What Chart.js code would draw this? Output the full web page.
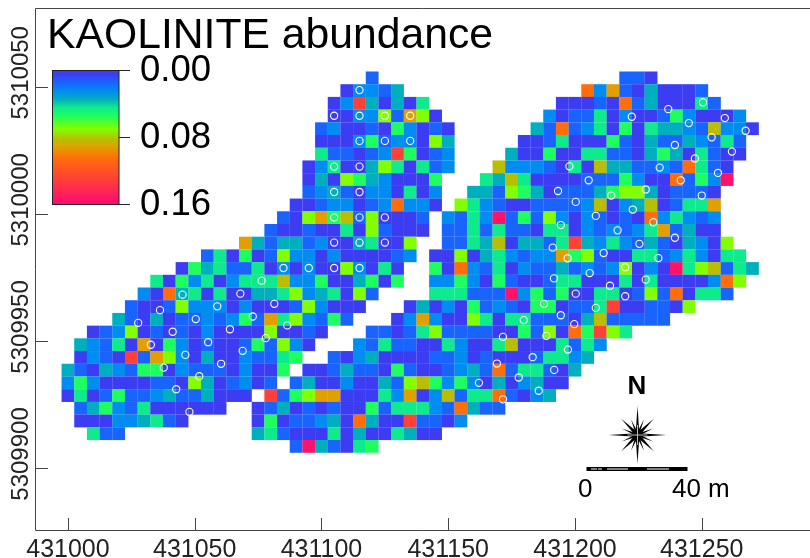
<!DOCTYPE html>
<html>
<head>
<meta charset="utf-8">
<title>KAOLINITE abundance</title>
<script src="https://cdn.jsdelivr.net/npm/chart.js@4"></script>
<style>
  html, body { margin: 0; padding: 0; background: #fff; }
  canvas { display: block; }
</style>
</head>
<body>
<canvas id="myChart" width="810" height="558"></canvas>
<script>
// abundance, in thousandths. row 0 is the northern row
const firstEast = 431000;
const firstNorth = 5310053.5;
const cellSize = 5;

const westStart = [24, 22, 21, 21, 20, 20, 20, 19, 19, 19, 18, 17, 16, 14, 11, 9, 7, 6, 5, 4, 2, 1, 1, 0, 0, 0, 1, 1, 2];
const westCells = [
  [15],
  [5, 25, 25, 15, 35],
  [5, 25, 130, 35, 5, 35, 5, 45],
  [5, 5, 25, 25, 70, 15, 92, 70, 5],
  [15, 25, 5, 5, 15, 5, 55, 25, 5, 15, 5],
  [5, 5, 5, 25, 55, 15, 25, 25, 5, 70, 35],
  [45, 15, 15, 5, 15, 25, 130, 55, 5, 15, 25],
  [5, 25, 45, 5, 5, 35, 70, 45, 5, 45, 15, 25],
  [5, 35, 5, 70, 55, 35, 25, 5, 5, 5, 55],
  [15, 25, 35, 15, 5, 25, 25, 5, 45, 5, 25],
  [5, 5, 15, 25, 25, 5, 15, 25, 105, 25, 25, 5],
  [15, 5, 70, 92, 55, 83, 15, 70, 5, 5, 5, 15],
  [15, 5, 5, 15, 5, 5, 45, 5, 70, 15, 5, 5, 5],
  [92, 35, 15, 35, 35, 15, 25, 5, 5, 35, 45, 5, 5, 70],
  [15, 45, 5, 55, 5, 15, 70, 25, 25, 5, 25, 5, 5, 5, 5, 15, 25],
  [5, 55, 35, 45, 15, 15, 45, 5, 25, 5, 25, 5, 5, 70, 25, 5, 45, 5],
  [45, 5, 55, 25, 45, 5, 25, 45, 45, 45, 83, 25, 25, 55, 5, 5, 35, 55, 5, 55],
  [25, 5, 105, 35, 45, 5, 45, 5, 5, 35, 35, 45, 70, 25, 35, 45, 5, 70, 15],
  [15, 5, 5, 15, 70, 25, 25, 25, 5, 25, 5, 5, 5, 15, 70, 25, 5, 5, 5],
  [35, 15, 5, 35, 5, 15, 15, 25, 15, 25, 55, 15, 92, 45, 70, 25, 15, 55, 15],
  [5, 15, 25, 70, 5, 15, 5, 15, 5, 25, 5, 5, 5, 5, 70, 5, 5, 15, 5],
  [35, 25, 15, 45, 5, 92, 5, 55, 25, 5, 15, 5, 5, 15, 55, 15, 70, 25, 5],
  [5, 25, 15, 5, 130, 15, 92, 70, 25, 5, 35, 5, 5, 25, 15, 15, 45, 55],
  [35, 15, 5, 35, 25, 15, 55, 55, 5, 25, 15, 15, 15, 5, 25, 5, 5, 55],
  [25, 55, 25, 5, 5, 5, 5, 15, 15, 5, 70, 35, 5, 15, 25, 5, 15],
  [5, 45, 5, 15, 55, 15, 15, 25, 35, 15, 15, 35, 5, 5, 5],
  [15, 35, 55, 25, 15, 45, 5, 5, 5, 5, 5, 5],
  [5, 5, 5, 25, 25, 35, 45, 15, 5],
  [45, 15, 15],
];

const eastStart = [44, 41, 39, 38, 37, 36, 35, 34, 33, 32, 31, 30, 30, 30, 29, 29, 29, 29, 27, 26, 24, 23, 21, 19, 18, 16, 15, 15, 15, 18];
const eastCells = [
  [15, 15, 5],
  [105, 25, 92, 15, 5, 35, 5, 5, 5, 15],
  [5, 5, 5, 15, 5, 105, 15, 35, 5, 5, 5, 45, 15],
  [25, 5, 15, 15, 45, 5, 25, 5, 5, 15, 55, 25, 5, 5, 5, 25],
  [35, 15, 105, 15, 25, 45, 5, 55, 5, 45, 35, 35, 25, 15, 83, 25, 25, 5],
  [5, 5, 15, 45, 5, 5, 5, 55, 15, 5, 35, 15, 15, 35, 25, 15, 45, 15],
  [35, 5, 5, 55, 5, 5, 45, 45, 15, 15, 5, 35, 55, 35, 5, 45, 15, 5, 5],
  [83, 25, 25, 25, 15, 5, 45, 5, 83, 35, 35, 15, 15, 25, 15, 105, 45, 15, 5],
  [45, 35, 83, 45, 5, 5, 5, 5, 15, 15, 15, 55, 25, 5, 5, 105, 15, 55, 25, 155],
  [35, 35, 15, 70, 55, 35, 5, 15, 15, 15, 35, 55, 70, 70, 35, 5, 15, 15, 15, 5],
  [70, 45, 25, 15, 5, 5, 15, 15, 15, 15, 25, 83, 5, 25, 35, 83, 5, 15, 45, 45, 92],
  [25, 15, 45, 25, 155, 15, 55, 15, 70, 25, 5, 25, 15, 5, 15, 5, 105, 25, 45, 25, 15, 25],
  [15, 15, 45, 15, 45, 15, 15, 5, 45, 45, 5, 25, 15, 25, 15, 25, 45, 92, 15, 35, 5, 5],
  [15, 15, 45, 35, 83, 5, 35, 35, 15, 45, 130, 35, 25, 45, 25, 15, 35, 15, 5, 35, 25, 5, 70],
  [5, 5, 70, 5, 35, 45, 25, 15, 25, 25, 92, 55, 70, 15, 5, 5, 45, 45, 15, 25, 45, 25, 5, 45, 45],
  [55, 5, 105, 25, 15, 45, 5, 25, 15, 15, 35, 15, 25, 15, 25, 70, 5, 25, 5, 155, 45, 70, 83, 15, 45, 35],
  [25, 25, 55, 25, 5, 55, 15, 5, 5, 15, 45, 45, 5, 5, 5, 45, 5, 45, 5, 5, 5, 5, 25, 105, 70],
  [45, 45, 45, 15, 15, 15, 155, 25, 55, 15, 55, 5, 5, 45, 45, 5, 15, 70, 15, 105, 5, 45, 45, 15],
  [5, 35, 5, 25, 5, 55, 15, 25, 15, 5, 55, 55, 5, 15, 15, 45, 130, 5, 5, 15, 15, 5, 70],
  [5, 25, 92, 25, 5, 5, 70, 45, 5, 45, 45, 15, 15, 15, 5, 35, 83, 15, 15, 15, 15, 15],
  [15, 15, 5, 15, 45, 70, 15, 15, 15, 15, 5, 5, 55, 15, 70, 5, 105, 55, 130, 70, 45],
  [25, 15, 45, 15, 15, 5, 5, 45, 25, 5, 5, 45, 83, 5, 5, 5, 45, 15, 45, 25],
  [15, 5, 25, 35, 5, 5, 5, 5, 15, 15, 25, 5, 15, 5, 5, 5, 15, 45, 45, 25, 35],
  [5, 5, 15, 35, 15, 15, 5, 55, 15, 5, 5, 15, 25, 35, 15, 105, 15, 45, 45, 15, 5, 35],
  [15, 35, 5, 5, 25, 5, 5, 35, 15, 70, 83, 55, 25, 55, 25, 5, 35, 5, 25, 35, 5, 5],
  [130, 15, 55, 70, 92, 92, 5, 5, 5, 45, 25, 92, 5, 25, 83, 15, 45, 45, 105, 15, 5, 25, 35],
  [5, 15, 35, 5, 15, 5, 15, 5, 5, 55, 15, 45, 45, 45, 25, 15, 105, 35, 15, 15],
  [5, 55, 5, 15, 15, 25, 35, 5, 105, 35, 5, 5, 130, 15, 15, 5, 25],
  [35, 45, 15, 5, 5, 5, 45, 5, 35, 5, 5, 45, 35, 5, 5],
  [15, 155, 35, 15, 5, 45, 55],
];

// sample points, metres
const sampleEast = [
  431076.4, 431045.2, 431068, 431081.4, 431036.3, 431058.9, 431027.7, 431050.4, 431072.9, 431041.3, 431063.9, 431078,
  431032.7, 431055.3, 431046.3, 431068.9, 431060.4, 431037.8, 431051.8, 431042.7, 431047.9, 431086.5,
  431115, 431105, 431115, 431125, 431135, 431115, 431125, 431135, 431105, 431115, 431105, 431115,
  431105, 431115, 431125, 431105, 431115, 431125, 431085, 431095, 431105, 431115,
  431162.1, 431197.8, 431205.4, 431193.3, 431200.3, 431208.2, 431194.4,
  431236.8, 431250.5, 431222.4, 431259.1, 431244.9, 431267.3, 431253.9, 431239.4, 431261.9, 431247.3, 431233.4,
  431256.4, 431241.7, 431227.9, 431214.3, 431250, 431222.8, 431230.9, 431216.8, 431239.4, 431225.4,
  431191.2, 431197.1, 431205.8, 431191.7, 431200.3, 431187.8, 431208.2, 431194.4, 431179.8, 431199.7,
  431188.7, 431171.6, 431197.2, 431183.3, 431169.2, 431191.8, 431177.8, 431185.7, 431171.6,
  431211.3, 431232.9, 431219.8, 431227.9, 431213.8, 431219.8,
];
const sampleNorth = [
  5309973.7, 5309968.2, 5309968.6, 5309964.6, 5309962.1, 5309963.6, 5309957.1, 5309958.6, 5309959.6, 5309953.6, 5309954.6, 5309951.1,
  5309948.5, 5309949.5, 5309944.5, 5309946.1, 5309941, 5309939.5, 5309936.1, 5309931, 5309922.1, 5309956.1,
  5310048.7, 5310038.6, 5310038.6, 5310038.6, 5310038.6, 5310028.7, 5310028.7, 5310028.7, 5310018.6, 5310018.6, 5310008.6, 5310008.6,
  5309998.6, 5309998.6, 5309998.6, 5309988.7, 5309988.7, 5309988.7, 5309978.7, 5309978.7, 5309978.7, 5309978.7,
  5309933.5, 5310018.7, 5310013.2, 5310009, 5310004.7, 5309999.2, 5309995.6,
  5310041.2, 5310043.9, 5310038.2, 5310037.7, 5310035.7, 5310032.7, 5310030.1, 5310027.1, 5310024.5, 5310021.8, 5310018.2,
  5310016.1, 5310013.2, 5310009.6, 5310007.2, 5310007.2, 5310001.7, 5309996.7, 5309993.5, 5309990.6, 5309988.2,
  5309986.7, 5309982.5, 5309976.7, 5309974.6, 5309968.6, 5309964.6, 5309963, 5309960.1, 5309958.2, 5309956.6,
  5309952, 5309951.6, 5309946.6, 5309943.6, 5309941.1, 5309938.6, 5309935.6, 5309930.4, 5309927,
  5309984.6, 5309982.6, 5309979, 5309974.1, 5309971.7, 5309967.6,
];

const xTicks = [431000, 431050, 431100, 431150, 431200, 431250];
const yTicks = [5309900, 5309950, 5310000, 5310050];
const legendLabels = ['0.00', '0.08', '0.16'];

// colour ramp, value in thousandths
const rampValues = [0, 5, 15, 25, 35, 45, 55, 70, 83, 92, 105, 130, 160];
const rampColors = [
  [64, 64, 255], [60, 60, 242], [25, 100, 255], [0, 140, 240], [0, 175, 190], [15, 235, 140], [30, 255, 95],
  [130, 255, 0], [185, 190, 0], [225, 160, 0], [255, 110, 10], [255, 65, 55], [255, 10, 115],
];

const colorFor = (v) => {
  let i = 0;
  while (i < rampValues.length - 2 && v > rampValues[i + 1]) i++;
  const t = (v - rampValues[i]) / (rampValues[i + 1] - rampValues[i]);
  const c = rampColors[i].map((a, j) => Math.round(a + (rampColors[i + 1][j] - a) * t));
  return `rgb(${c[0]},${c[1]},${c[2]})`;
};

const cellPoints = [];
const addCells = (starts, cells) => {
  cells.forEach((row, r) => {
    row.forEach((v, c) => {
      cellPoints.push({
        x: firstEast + (starts[r] + c) * cellSize,
        y: firstNorth - r * cellSize,
        v,
      });
    });
  });
};
addCells(westStart, westCells);
addCells(eastStart, eastCells);

const samplePoints = sampleEast.map((x, i) => ({ x, y: sampleNorth[i] }));

const drawStar = (ctx, cx, cy) => {
  const rays = [
    [0, 29, 1.6], [90, 29, 1.6], [180, 29, 1.6], [270, 29, 1.6],
    [45, 23, 1.6], [135, 23, 1.6], [225, 23, 1.6], [315, 23, 1.6],
    [22.5, 17, 1], [67.5, 17, 1], [112.5, 17, 1], [157.5, 17, 1],
    [202.5, 17, 1], [247.5, 17, 1], [292.5, 17, 1], [337.5, 17, 1],
  ];
  ctx.save();
  ctx.translate(cx, cy);
  ctx.fillStyle = '#000';
  for (const [deg, len, w] of rays) {
    ctx.save();
    ctx.rotate((deg * Math.PI) / 180);
    ctx.beginPath();
    ctx.moveTo(0, -len);
    ctx.lineTo(w, -5);
    ctx.lineTo(w, 0);
    ctx.lineTo(-w, 0);
    ctx.lineTo(-w, -5);
    ctx.closePath();
    ctx.fill();
    ctx.restore();
  }
  ctx.strokeStyle = '#bbb';
  ctx.lineWidth = 1;
  ctx.beginPath();
  ctx.moveTo(0, -10); ctx.lineTo(0, 10);
  ctx.moveTo(-10, 0); ctx.lineTo(10, 0);
  ctx.stroke();
  ctx.restore();
};

const mapDecor = {
  id: 'mapDecor',
  afterDraw(chart) {
    const { ctx, chartArea: a, scales } = chart;
    ctx.save();

    // frame and inward ticks
    ctx.strokeStyle = '#444';
    ctx.lineWidth = 1;
    ctx.beginPath();
    ctx.moveTo(a.right, a.top + 0.5);
    ctx.lineTo(a.left + 0.5, a.top + 0.5);
    ctx.lineTo(a.left + 0.5, a.bottom + 0.5);
    ctx.lineTo(a.right, a.bottom + 0.5);
    for (const t of xTicks) {
      const px = Math.round(scales.x.getPixelForValue(t)) + 0.5;
      ctx.moveTo(px, a.bottom);
      ctx.lineTo(px, a.bottom - 12);
    }
    for (const t of yTicks) {
      const py = Math.round(scales.y.getPixelForValue(t)) + 0.5;
      ctx.moveTo(a.left, py);
      ctx.lineTo(a.left + 13, py);
    }
    ctx.stroke();

    // y tick labels, rotated and sitting a bit above the tick
    ctx.fillStyle = '#222';
    ctx.font = '24px "Liberation Sans"';
    ctx.textAlign = 'center';
    ctx.textBaseline = 'alphabetic';
    for (const t of yTicks) {
      ctx.save();
      ctx.translate(28, scales.y.getPixelForValue(t) - 14);
      ctx.rotate(-Math.PI / 2);
      ctx.fillText(String(t), 0, 0);
      ctx.restore();
    }

    // title
    ctx.fillStyle = '#000';
    ctx.textAlign = 'left';
    ctx.font = '42.7px "Liberation Sans"';
    ctx.fillText('KAOLINITE abundance', 47, 48);

    // colour bar
    const barTop = 70;
    const barBottom = 204;
    const grad = ctx.createLinearGradient(0, barTop, 0, barBottom);
    rampValues.forEach((v, i) => {
      const c = rampColors[i];
      grad.addColorStop(v / 160, `rgb(${c[0]},${c[1]},${c[2]})`);
    });
    ctx.fillStyle = grad;
    ctx.fillRect(52.5, barTop, 66.5, barBottom - barTop);
    ctx.strokeStyle = '#222';
    ctx.strokeRect(52.5, barTop + 0.5, 66.5, barBottom - barTop);
    ctx.beginPath();
    legendLabels.forEach((_, i) => {
      const py = barTop + 0.5 + (i * (barBottom - barTop)) / 2;
      ctx.moveTo(119, py);
      ctx.lineTo(130, py);
    });
    ctx.stroke();
    ctx.fillStyle = '#000';
    ctx.font = '36.5px "Liberation Sans"';
    ctx.textBaseline = 'middle';
    legendLabels.forEach((label, i) => {
      ctx.fillText(label, 140, barTop + 1 + (i * (barBottom - barTop)) / 2);
    });

    // north arrow and scale bar
    ctx.textBaseline = 'alphabetic';
    ctx.font = 'bold 26px "Liberation Sans"';
    ctx.textAlign = 'center';
    ctx.fillText('N', 637, 394);
    drawStar(ctx, 637.5, 435);

    ctx.fillRect(586.5, 467, 101, 4);
    ctx.fillStyle = '#fff';
    ctx.fillRect(591, 468.5, 6, 1);
    ctx.fillRect(598, 468.5, 4, 1);
    ctx.fillRect(607, 468.5, 21, 1);
    ctx.fillRect(647, 468.5, 22, 1);

    ctx.fillStyle = '#000';
    ctx.font = '26px "Liberation Sans"';
    ctx.textAlign = 'left';
    ctx.fillText('0', 578, 497);
    ctx.fillText('40', 672, 497);
    ctx.fillText('m', 708, 497);
    ctx.restore();
  },
};

new Chart(document.getElementById('myChart'), {
  type: 'scatter',
  data: {
    datasets: [
      {
        label: 'samples',
        data: samplePoints,
        pointStyle: 'circle',
        pointRadius: 3.6,
        pointBackgroundColor: 'rgba(0,0,0,0)',
        pointBorderColor: '#fff',
        pointBorderWidth: 1.1,
      },
      {
        label: 'kaolinite',
        data: cellPoints,
        pointStyle: 'rect',
        pointRadius: 9.05,
        pointBorderWidth: 0,
        pointBackgroundColor: (c) => colorFor(c.raw.v),
      },
    ],
  },
  options: {
    responsive: false,
    animation: false,
    layout: { autoPadding: false, padding: { top: 8 } },
    plugins: { legend: { display: false }, tooltip: { enabled: false } },
    scales: {
      x: {
        type: 'linear',
        min: 430987,
        max: 431292.7,
        afterFit: (s) => { s.height = 28; s.paddingLeft = 0; s.paddingRight = 0; },
        grid: { display: false, drawTicks: false },
        border: { display: false },
        ticks: {
          stepSize: 50,
          includeBounds: false,
          autoSkip: false,
          maxRotation: 0,
          padding: 5,
          color: '#222',
          font: { family: 'Liberation Sans', size: 25 },
          callback: (v) => String(v),
        },
      },
      y: {
        type: 'linear',
        min: 5309875.6,
        max: 5310081,
        afterFit: (s) => { s.width = 35; },
        grid: { display: false, drawTicks: false },
        border: { display: false },
        ticks: { display: false, stepSize: 50, includeBounds: false },
      },
    },
  },
  plugins: [mapDecor],
});
</script>
</body>
</html>
